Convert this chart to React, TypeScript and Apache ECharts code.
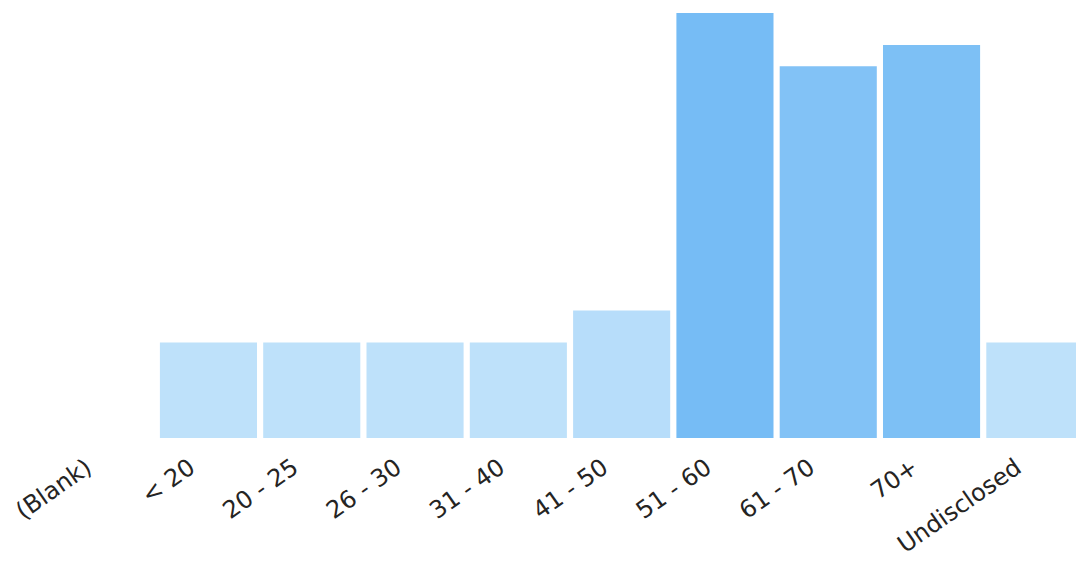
import React, { useEffect, useRef } from "react";
import * as echarts from "echarts";

const categories = ["(Blank)", "< 20", "20 - 25", "26 - 30", "31 - 40", "41 - 50", "51 - 60", "61 - 70", "70+", "Undisclosed"];
const values: (number | null)[] = [null, 9, 9, 9, 9, 12, 40, 35, 37, 9];

export default function App() {
  const ref = useRef<HTMLDivElement>(null);
  useEffect(() => {
    if (!ref.current) return;
    const chart = echarts.init(ref.current, undefined, { renderer: "svg" });
    chart.setOption({
      animation: false,
      grid: { left: 53.5, width: 1033, top: 13, bottom: 125, containLabel: false, outerBoundsMode: "none" },
      visualMap: {
        show: false,
        type: "continuous",
        min: 9,
        max: 40,
        dimension: 1,
        inRange: { color: ["#BEE1FA", "#76BCF5"] },
      },
      xAxis: {
        type: "category",
        data: categories,
        axisLine: { show: false },
        axisTick: { show: false },
        axisLabel: {
          interval: 0,
          rotate: 35,
          margin: 15,
          padding: [0, 20, 0, 0],
          fontFamily: "DejaVu Sans",
          fontSize: 24,
          color: "#252423",
          hideOverlap: false,
        },
      },
      yAxis: {
        type: "value",
        min: 0,
        max: 40,
        show: false,
        splitLine: { show: false },
      },
      series: [
        {
          type: "bar",
          data: values,
          barCategoryGap: "6%",
          itemStyle: { borderRadius: 0 },
        },
      ],
    });
    return () => chart.dispose();
  }, []);
  return <div ref={ref} style={{ position: "absolute", left: 0, top: 0, width: 1076, height: 563 }} />;
}
